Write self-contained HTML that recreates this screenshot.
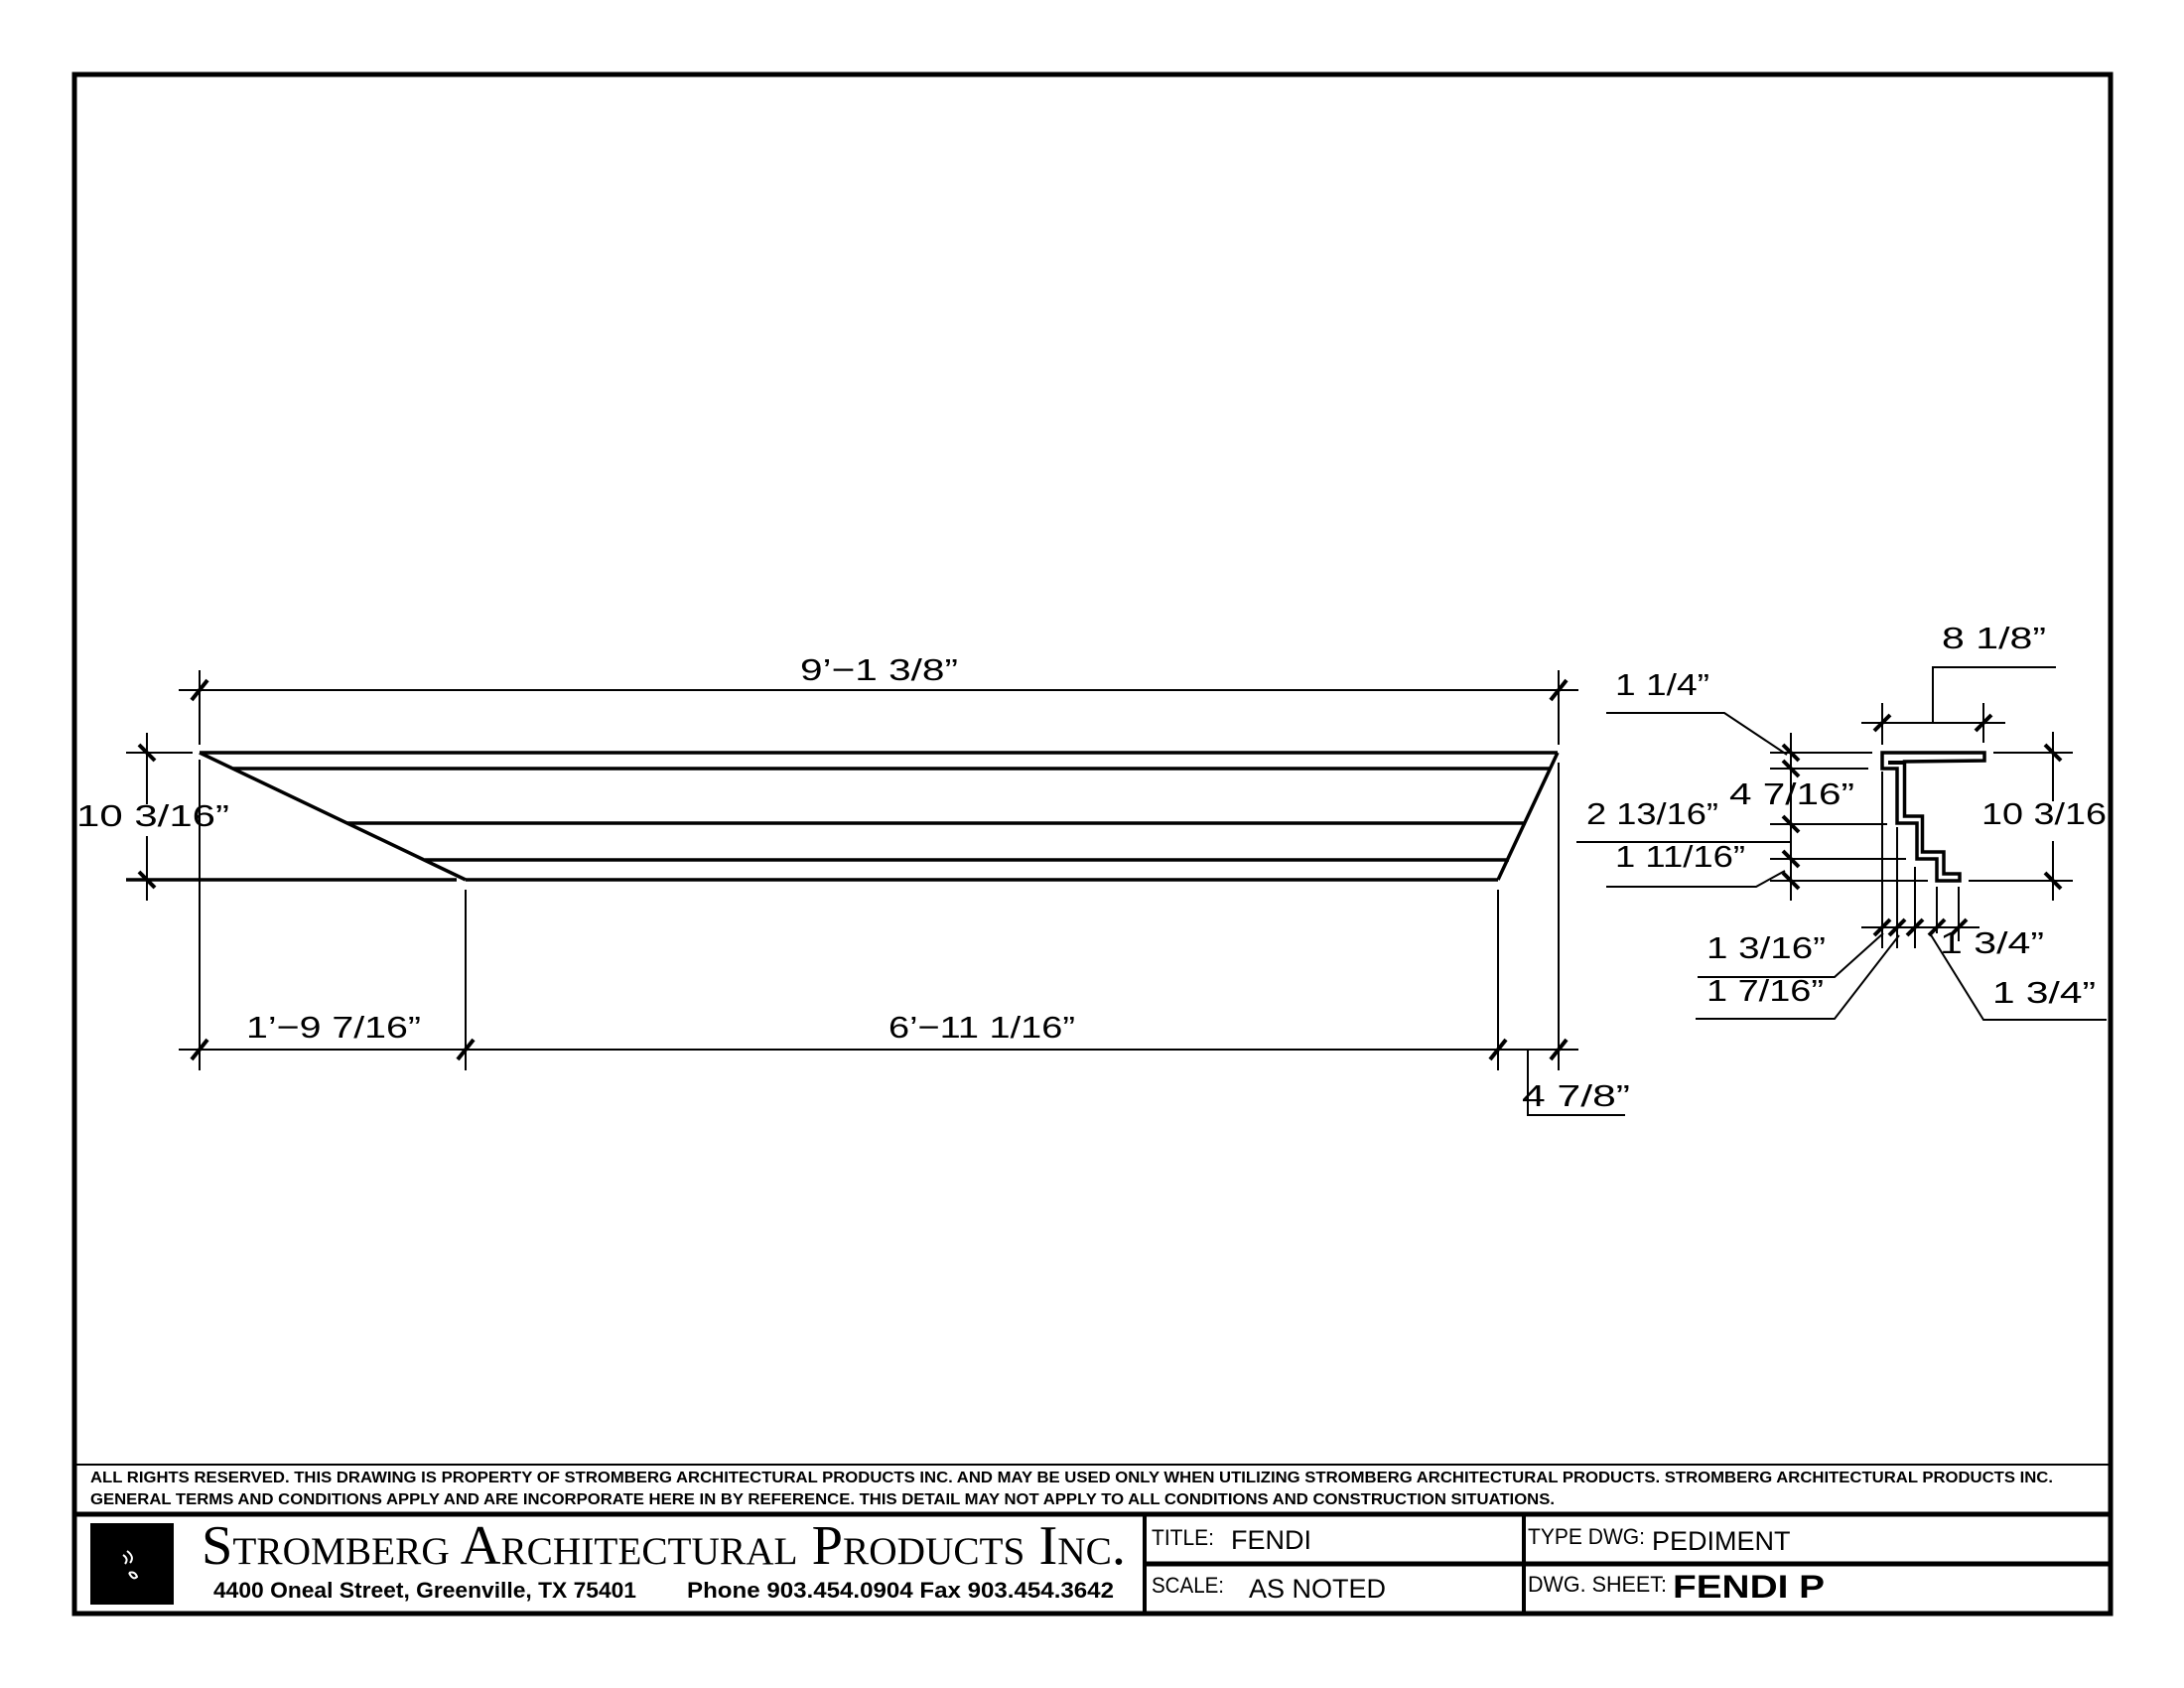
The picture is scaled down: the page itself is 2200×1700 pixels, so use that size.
<!DOCTYPE html>
<html><head><meta charset="utf-8"><style>
html,body{margin:0;padding:0;background:#fff}
svg{display:block}
.d{font-family:"Liberation Sans",sans-serif;font-size:31px;fill:#000}
.b{font-family:"Liberation Sans",sans-serif;font-weight:bold;fill:#000}
</style></head><body>
<svg width="2200" height="1700" viewBox="0 0 2200 1700" xmlns="http://www.w3.org/2000/svg">
<rect x="0" y="0" width="2200" height="1700" fill="#fff"/>
<!-- border -->
<rect x="75" y="75" width="2051" height="1550" fill="none" stroke="#000" stroke-width="5"/>
<line x1="75" y1="1475" x2="2126" y2="1475" stroke="#000" stroke-width="2"/>
<line x1="75" y1="1525" x2="2126" y2="1525" stroke="#000" stroke-width="5"/>
<line x1="1153" y1="1575" x2="2126" y2="1575" stroke="#000" stroke-width="5"/>
<line x1="1153" y1="1525" x2="1153" y2="1625" stroke="#000" stroke-width="4"/>
<line x1="1535" y1="1525" x2="1535" y2="1625" stroke="#000" stroke-width="4"/>
<!-- disclaimer -->
<text class="b" x="91" y="1493" font-size="16" textLength="1977" lengthAdjust="spacingAndGlyphs">ALL RIGHTS RESERVED. THIS DRAWING IS PROPERTY OF STROMBERG ARCHITECTURAL PRODUCTS INC. AND MAY BE USED ONLY WHEN UTILIZING STROMBERG ARCHITECTURAL PRODUCTS.  STROMBERG ARCHITECTURAL PRODUCTS INC.</text>
<text class="b" x="91" y="1515" font-size="16" textLength="1475" lengthAdjust="spacingAndGlyphs">GENERAL TERMS AND CONDITIONS APPLY AND ARE INCORPORATE HERE IN BY REFERENCE.  THIS DETAIL MAY NOT APPLY TO ALL CONDITIONS AND CONSTRUCTION SITUATIONS.</text>
<!-- logo -->
<rect x="91" y="1534" width="84" height="82" fill="#000"/>
<path d="M124 1566 q6 4 2 9 M128 1562 q8 6 3 12 M130 1584 q6 -2 8 4 q-4 4 -8 -4" stroke="#fff" stroke-width="2" fill="none"/>
<text x="203" y="1575" font-family="'Liberation Serif',serif" font-size="56" style="font-variant:small-caps" textLength="931" lengthAdjust="spacingAndGlyphs">Stromberg Architectural Products Inc.</text>
<text class="b" x="215" y="1609" font-size="22" textLength="426" lengthAdjust="spacingAndGlyphs">4400 Oneal Street, Greenville, TX  75401</text>
<text class="b" x="692" y="1609" font-size="22" textLength="430" lengthAdjust="spacingAndGlyphs">Phone 903.454.0904   Fax 903.454.3642</text>
<!-- title cells -->
<text x="1160" y="1556" font-family="'Liberation Sans',sans-serif" font-size="22" textLength="63" lengthAdjust="spacingAndGlyphs">TITLE:</text>
<text x="1240" y="1560" font-family="'Liberation Sans',sans-serif" font-size="27">FENDI</text>
<text x="1160" y="1604" font-family="'Liberation Sans',sans-serif" font-size="22" textLength="73" lengthAdjust="spacingAndGlyphs">SCALE:</text>
<text x="1258" y="1609" font-family="'Liberation Sans',sans-serif" font-size="27">AS NOTED</text>
<text x="1539" y="1555" font-family="'Liberation Sans',sans-serif" font-size="22" textLength="118" lengthAdjust="spacingAndGlyphs">TYPE DWG:</text>
<text x="1664" y="1561" font-family="'Liberation Sans',sans-serif" font-size="27">PEDIMENT</text>
<text x="1539" y="1603" font-family="'Liberation Sans',sans-serif" font-size="22" textLength="140" lengthAdjust="spacingAndGlyphs">DWG. SHEET:</text>
<text class="b" x="1685" y="1609" font-size="32" textLength="153" lengthAdjust="spacingAndGlyphs">FENDI P</text>

<!-- ELEVATION -->
<g stroke="#000" stroke-width="3.5" fill="none">
<line x1="201" y1="758" x2="1569" y2="758"/>
<line x1="235" y1="774" x2="1562" y2="774"/>
<line x1="350" y1="829" x2="1537" y2="829"/>
<line x1="428" y1="866" x2="1520" y2="866"/>
<line x1="127" y1="886" x2="460" y2="886"/>
<line x1="469" y1="886" x2="1509" y2="886"/>
<line x1="201" y1="758" x2="469" y2="886"/>
<line x1="1569" y1="758" x2="1509" y2="886"/>
</g>
<g stroke="#000" stroke-width="2" fill="none">
<!-- top dim -->
<line x1="180" y1="695" x2="1590" y2="695"/>
<line x1="201" y1="675" x2="201" y2="750"/>
<line x1="201" y1="765" x2="201" y2="1078"/>
<line x1="1570" y1="675" x2="1570" y2="750"/>
<line x1="1570" y1="768" x2="1570" y2="1078"/>
<!-- left dim -->
<line x1="148" y1="738" x2="148" y2="810"/>
<line x1="148" y1="842" x2="148" y2="907"/>
<line x1="127" y1="758" x2="194" y2="758"/>
<!-- bottom dim -->
<line x1="180" y1="1057" x2="1590" y2="1057"/>
<line x1="469" y1="896" x2="469" y2="1078"/>
<line x1="1509" y1="896" x2="1509" y2="1078"/>
<polyline points="1539,1057 1539,1123 1637,1123"/>
</g>
<g stroke="#000" stroke-width="4">
<line x1="193" y1="705" x2="209" y2="685"/>
<line x1="1562" y1="705" x2="1578" y2="685"/>
<line x1="140" y1="750" x2="156" y2="766"/>
<line x1="140" y1="878" x2="156" y2="894"/>
<line x1="193" y1="1067" x2="209" y2="1047"/>
<line x1="461" y1="1067" x2="477" y2="1047"/>
<line x1="1501" y1="1067" x2="1517" y2="1047"/>
<line x1="1562" y1="1067" x2="1578" y2="1047"/>
</g>
<text class="d" x="806" y="685" textLength="159" lengthAdjust="spacingAndGlyphs">9’−1 3/8”</text>
<text class="d" x="77" y="832" textLength="154" lengthAdjust="spacingAndGlyphs">10 3/16”</text>
<text class="d" x="248" y="1045" textLength="176" lengthAdjust="spacingAndGlyphs">1’−9 7/16”</text>
<text class="d" x="895" y="1045" textLength="188" lengthAdjust="spacingAndGlyphs">6’−11 1/16”</text>
<text class="d" x="1533" y="1114" textLength="109" lengthAdjust="spacingAndGlyphs">4 7/8”</text>

<!-- SECTION -->
<polygon points="1896,758 1999,758 1999,766 1918.5,767 1918.5,822 1936.5,822 1936.5,858 1958,858 1958,880 1974,880 1974,887 1951,887 1951,865 1931,865 1931,829 1911,829 1911,774 1896,774" fill="#fff" stroke="#000" stroke-width="3.5"/>
<rect x="1902" y="766" width="16" height="4" fill="#000"/>
<g stroke="#000" stroke-width="2" fill="none">
<!-- top 8 1/8 -->
<line x1="1875" y1="728" x2="2020" y2="728"/>
<line x1="1896" y1="708" x2="1896" y2="750"/>
<line x1="1998" y1="708" x2="1998" y2="748"/>
<polyline points="1947,728 1947,672 2071,672"/>
<!-- left vertical -->
<line x1="1804" y1="738" x2="1804" y2="907"/>
<line x1="1783" y1="758" x2="1886" y2="758"/>
<line x1="1783" y1="774" x2="1882" y2="774"/>
<line x1="1783" y1="830" x2="1901" y2="830"/>
<line x1="1783" y1="865" x2="1920" y2="865"/>
<line x1="1783" y1="887" x2="1942" y2="887"/>
<polyline points="1618,718 1737,718 1800,760"/>
<line x1="1588" y1="848" x2="1804" y2="848"/>
<polyline points="1618,893 1769,893 1798,877"/>
<!-- right vertical -->
<line x1="2068" y1="737" x2="2068" y2="807"/>
<line x1="2068" y1="847" x2="2068" y2="907"/>
<line x1="2008" y1="758" x2="2088" y2="758"/>
<line x1="1983" y1="887" x2="2088" y2="887"/>
<!-- bottom -->
<line x1="1875" y1="934" x2="1994" y2="934"/>
<line x1="1896" y1="777" x2="1896" y2="955"/>
<line x1="1911" y1="833" x2="1911" y2="955"/>
<line x1="1929" y1="873" x2="1929" y2="955"/>
<line x1="1951" y1="893" x2="1951" y2="940"/>
<line x1="1973" y1="893" x2="1973" y2="948"/>
<polyline points="1710,984 1848,984 1897,940"/>
<polyline points="1708,1026 1848,1026 1913,942"/>
<polyline points="1944,940 1998,1027 2122,1027"/>
</g>
<g stroke="#000" stroke-width="4">
<line x1="1888" y1="736" x2="1904" y2="720"/>
<line x1="1990" y1="736" x2="2006" y2="720"/>
<line x1="1796" y1="750" x2="1812" y2="766"/>
<line x1="1796" y1="766" x2="1812" y2="782"/>
<line x1="1796" y1="822" x2="1812" y2="838"/>
<line x1="1796" y1="857" x2="1812" y2="873"/>
<line x1="1796" y1="879" x2="1812" y2="895"/>
<line x1="2060" y1="750" x2="2076" y2="766"/>
<line x1="2060" y1="879" x2="2076" y2="895"/>
<line x1="1888" y1="942" x2="1904" y2="926"/>
<line x1="1903" y1="942" x2="1919" y2="926"/>
<line x1="1921" y1="942" x2="1937" y2="926"/>
<line x1="1943" y1="942" x2="1959" y2="926"/>
<line x1="1965" y1="942" x2="1981" y2="926"/>
</g>
<text class="d" x="1956" y="653" textLength="105" lengthAdjust="spacingAndGlyphs">8 1/8”</text>
<text class="d" x="1627" y="700" textLength="95" lengthAdjust="spacingAndGlyphs">1 1/4”</text>
<text class="d" x="1598" y="830" textLength="133" lengthAdjust="spacingAndGlyphs">2 13/16”</text>
<text class="d" x="1742" y="810" textLength="126" lengthAdjust="spacingAndGlyphs">4 7/16”</text>
<text class="d" x="1996" y="830" textLength="126" lengthAdjust="spacingAndGlyphs">10 3/16</text>
<text class="d" x="1627" y="873" textLength="131" lengthAdjust="spacingAndGlyphs">1 11/16”</text>
<text class="d" x="1719" y="965" textLength="120" lengthAdjust="spacingAndGlyphs">1 3/16”</text>
<text class="d" x="1719" y="1008" textLength="118" lengthAdjust="spacingAndGlyphs">1 7/16”</text>
<text class="d" x="1954" y="960" textLength="105" lengthAdjust="spacingAndGlyphs">1 3/4”</text>
<text class="d" x="2007" y="1010" textLength="104" lengthAdjust="spacingAndGlyphs">1 3/4”</text>
</svg>
</body></html>
